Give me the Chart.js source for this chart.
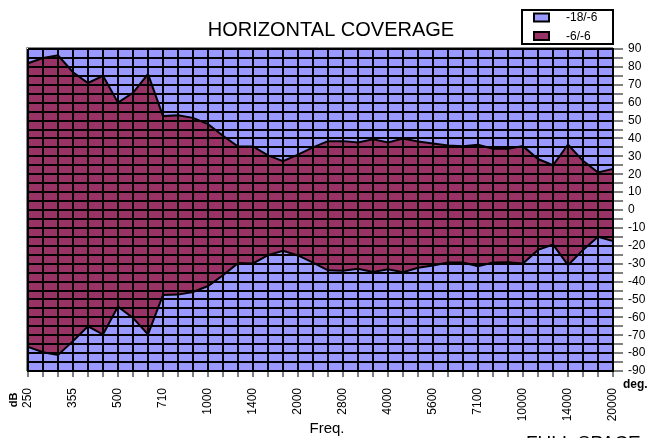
<!DOCTYPE html>
<html>
<head>
<meta charset="utf-8">
<script src="https://cdn.jsdelivr.net/npm/chart.js@4.4.0/dist/chart.umd.min.js"></script>
<style>
  html, body { margin: 0; padding: 0; background: #fff; }
</style>
</head>
<body>
<canvas id="cov" width="651" height="438"></canvas>
<script>
// tick labels on the frequency axis (one every third band)
const tickLabels = ["250", "355", "500", "710", "1000", "1400", "2000", "2800", "4000", "5600", "7100", "10000", "14000", "20000"];

// -6/-6 coverage limits, degrees, one per band (40 bands)
const upper6 = [82, 85, 86.5, 77, 71, 75, 60, 65.5, 76, 52.5,
                53, 51.5, 48, 41.5, 35.5, 35.5, 30.5, 27.3, 31, 35,
                38.5, 38.5, 37.8, 39.5, 37.8, 40, 38.3, 37.2, 36, 35.7,
                36.5, 34.3, 34.3, 35.7, 28.5, 25, 36.6, 27.5, 21, 23];
const lower6 = [-76.5, -79.5, -81, -73.3, -65, -69.6, -54, -60.3, -69.5, -47.5,
                -47.3, -45.8, -42.5, -36.5, -29.7, -29.9, -25.2, -22.8, -25.4, -29.4,
                -33.7, -34, -32.8, -34.7, -33.1, -34.8, -32.3, -31, -29.4, -29.4,
                -31.4, -29.3, -29.2, -29.9, -22.3, -19.3, -30.8, -22.3, -15, -17.4];

// -18/-6 coverage limits (clipped at the plot limits)
const upper18 = [90, 90, 90, 90, 90, 90, 90, 90, 90, 90,
                 90, 90, 90, 90, 90, 90, 90, 90, 90, 90,
                 90, 90, 90, 90, 90, 90, 90, 90, 90, 90,
                 90, 90, 90, 90, 90, 90, 90, 90, 90, 90];
const lower18 = [-90, -90, -90, -90, -90, -90, -90, -90, -90, -90,
                 -90, -90, -90, -90, -90, -90, -90, -90, -90, -90,
                 -90, -90, -90, -90, -90, -90, -90, -90, -90, -90,
                 -90, -90, -90, -90, -90, -90, -90, -90, -90, -90];

const BLUE = "#9999ff";
const MAROON = "#993366";
const FONT = "'Liberation Sans', Arial, sans-serif";

// 40 bands, named only where the axis shows a label
const bands = upper6.map((v, i) => (i % 3 === 0 ? tickLabels[i / 3] : ""));

const decor = {
    id: "decor",
    afterDraw(chart) {
        const ctx = chart.ctx;
        const area = chart.chartArea;
        ctx.save();

        // grey frame on the top and left edge of the plot
        ctx.strokeStyle = "#888";
        ctx.lineWidth = 1;
        ctx.beginPath();
        ctx.moveTo(area.left - 1.5, area.bottom);
        ctx.lineTo(area.left - 1.5, area.top - 1.5);
        ctx.lineTo(area.right, area.top - 1.5);
        ctx.stroke();

        ctx.fillStyle = "#000";

        // title
        ctx.font = "20px " + FONT;
        ctx.textAlign = "center";
        ctx.textBaseline = "alphabetic";
        ctx.fillText("HORIZONTAL COVERAGE", 331, 36);

        // axis captions
        ctx.font = "15px " + FONT;
        ctx.fillText("Freq.", 327, 433);
        ctx.font = "19px " + FONT;
        ctx.textAlign = "left";
        ctx.fillText("FULL SPACE", 526, 449);
        ctx.font = "bold 12px " + FONT;
        ctx.fillText("deg.", 623, 388);
        ctx.save();
        ctx.translate(14, 400);
        ctx.rotate(-Math.PI / 2);
        ctx.font = "bold 11px " + FONT;
        ctx.textAlign = "center";
        ctx.textBaseline = "middle";
        ctx.fillText("dB", 0, 0);
        ctx.restore();

        // legend
        ctx.lineWidth = 2;
        ctx.strokeStyle = "#000";
        ctx.fillStyle = "#fff";
        ctx.fillRect(522, 10, 91, 34);
        ctx.strokeRect(522, 10, 91, 34);
        const items = [
            { label: chart.data.datasets[0].label, color: chart.data.datasets[0].backgroundColor, y: 17.5 },
            { label: chart.data.datasets[2].label, color: chart.data.datasets[2].backgroundColor, y: 36 }
        ];
        ctx.font = "12px " + FONT;
        ctx.textAlign = "left";
        ctx.textBaseline = "middle";
        items.forEach((it) => {
            ctx.fillStyle = it.color;
            ctx.fillRect(534, it.y - 4, 15, 8);
            ctx.strokeRect(534, it.y - 4, 15, 8);
            ctx.fillStyle = "#000";
            ctx.fillText(it.label, 566, it.y + 0.5);
        });
        ctx.restore();
    }
};

new Chart(document.getElementById("cov"), {
    type: "line",
    data: {
        labels: bands,
        datasets: [
            {
                label: "-18/-6",
                data: upper18,
                backgroundColor: BLUE,
                borderColor: "rgba(0,0,0,0)",
                borderWidth: 0,
                fill: "+1",
                order: 1
            },
            {
                label: "-18/-6 low",
                data: lower18,
                backgroundColor: BLUE,
                borderColor: "rgba(0,0,0,0)",
                borderWidth: 0,
                fill: false,
                order: 1
            },
            {
                label: "-6/-6",
                data: upper6,
                backgroundColor: MAROON,
                borderColor: "#000",
                borderWidth: 2,
                fill: "+1",
                order: 0
            },
            {
                label: "-6/-6 low",
                data: lower6,
                backgroundColor: MAROON,
                borderColor: "#000",
                borderWidth: 2,
                fill: false,
                order: 0
            }
        ]
    },
    options: {
        responsive: false,
        devicePixelRatio: 1,
        animation: false,
        layout: { padding: { left: 28, top: 49, right: 0, bottom: 0 } },
        elements: {
            point: { radius: 0 },
            line: { tension: 0 }
        },
        plugins: {
            legend: { display: false },
            title: { display: false },
            tooltip: { enabled: false },
            filler: { drawTime: "beforeDatasetsDraw" }
        },
        scales: {
            x: {
                type: "category",
                offset: false,
                afterFit(scale) { scale.height = 67; },
                grid: {
                    z: 1,
                    color: "#000",
                    lineWidth: 2,
                    tickLength: 6,
                    tickWidth: 1,
                    tickColor: "#000"
                },
                border: { z: 2, color: "#000", width: 2 },
                ticks: {
                    autoSkip: false,
                    minRotation: 90,
                    maxRotation: 90,
                    padding: 11,
                    color: "#000",
                    font: { family: FONT, size: 12 }
                }
            },
            y: {
                position: "right",
                min: -90,
                max: 90,
                afterFit(scale) { scale.width = 38; },
                grid: {
                    z: 1,
                    color: "#000",
                    lineWidth: 2,
                    tickLength: 10,
                    tickWidth: 1,
                    tickColor: "#000"
                },
                border: { z: 2, color: "#000", width: 2 },
                ticks: {
                    stepSize: 5,
                    autoSkip: false,
                    padding: 5,
                    color: "#000",
                    font: { family: FONT, size: 12 },
                    callback: (v) => (v % 10 === 0 ? String(v) : "")
                }
            }
        }
    },
    plugins: [decor]
});
</script>
</body>
</html>
